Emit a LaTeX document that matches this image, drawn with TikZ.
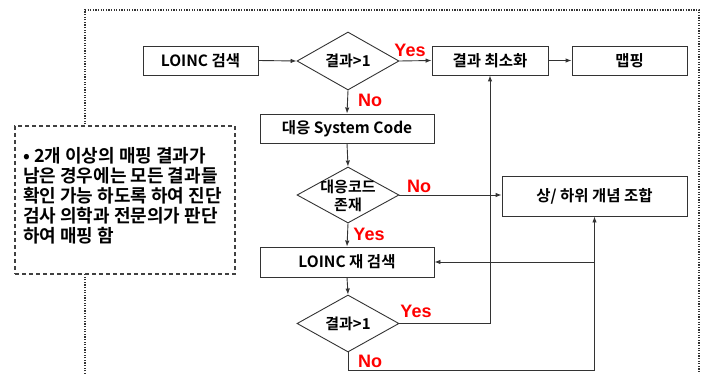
\documentclass[tikz,border=0pt]{standalone}
\usepackage{fontspec}
\newfontfamily\kr{Noto Sans CJK KR}[BoldFont={* Bold}]
\setmainfont{Liberation Sans}
\usetikzlibrary{shapes.geometric,arrows.meta}
\definecolor{lineg}{HTML}{333333}
\begin{document}
\begin{tikzpicture}[x=1pt,y=-1pt,
  box/.style={draw=lineg,line width=0.9pt,fill=white,minimum height=29pt,inner sep=0pt,font=\kr\bfseries\fontsize{15.5}{17}\selectfont},
  dia/.style={draw=lineg,line width=0.9pt,fill=white,diamond,minimum width=102pt,minimum height=57pt,inner sep=0pt},
  dtxt/.style={inner sep=0pt,align=center,font=\kr\bfseries\fontsize{15}{18}\selectfont},
  arr/.style={draw=lineg,line width=0.9pt,-{Latex[length=6pt,width=4.5pt]}},
  yn/.style={text=red,font=\bfseries\fontsize{18}{18}\selectfont,inner sep=0pt}]
\useasboundingbox (0,0) rectangle (711,374);
% dotted frame
\draw[line width=1.3pt,dash pattern=on 1.3pt off 1.3pt,draw=black!80] (85,374) -- (85,10) -- (699,10) -- (699,374);
% note box
\node[draw=black!75,line width=1.1pt,dash pattern=on 4pt off 3pt,fill=white,minimum width=220pt,minimum height=148pt,inner sep=0pt] (note) at (125,200) {};
\node[anchor=north west,inner sep=0pt,align=left,font=\kr\bfseries\fontsize{18}{20}\selectfont] (notetxt) at (23,147)
 {• 2개 이상의 매핑 결과가\\남은 경우에는 모든 결과들\\확인 가능 하도록 하여 진단\\검사 의학과 전문의가 판단\\하여 매핑 함};
% nodes
\node[box,minimum width=115pt] (loinc) at (200.5,60.5) {LOINC 검색};
\node[dia,minimum height=58pt] (d1) at (348,61) {};
\node[dtxt] (d1t) at (d1) {결과>1};
\node[box,minimum width=116pt] (min) at (490,60.5) {결과 최소화};
\node[box,minimum width=115pt] (map) at (629.5,60.5) {맵핑};
\node[box,minimum width=174pt] (sys) at (347,128.5) {대응 System Code};
\node[dia,minimum height=56pt] (d2) at (348,195) {};
\node[dtxt] (d2t) at (348,196) {대응코드\\존재};
\node[box,minimum width=185pt,minimum height=40pt] (comb) at (594.5,196) {상/ 하위 개념 조합};
\node[box,minimum width=174pt,minimum height=30pt] (re) at (347,262) {LOINC 재 검색};
\node[dia,minimum height=57pt] (d3) at (348,323.5) {};
\node[dtxt] (d3t) at (d3) {결과>1};
% labels
\node[yn] (y1) at (410,50) {Yes};
\node[yn] (n1) at (370,100) {No};
\node[yn] (n2) at (419,186) {No};
\node[yn] (y2) at (369,234) {Yes};
\node[yn] (y3) at (416,311) {Yes};
\node[yn] (n3) at (370,361) {No};
% connectors
\draw[arr] (loinc.east) -- (d1.west);
\draw[arr] (d1.east) -- (min.west);
\draw[arr] (min.east) -- (map.west);
\draw[arr] (d1.south) -- (sys.north);
\draw[arr] (sys.south) -- (d2.north);
\draw[arr] (d2.east) -- (d2.east -| comb.west);
\draw[arr] (d2.south) -- (re.north);
\draw[arr] (re.south) -- (d3.north);
\draw[arr] (d3.east) -| (min.south);
\coordinate (nb) at (348,370);
\draw[arr] (d3.south) -- (nb) -| (comb.south);
\coordinate (j) at (comb.south |- re.east);
\draw[arr] (j) -- (re.east);
\end{tikzpicture}
\end{document}
